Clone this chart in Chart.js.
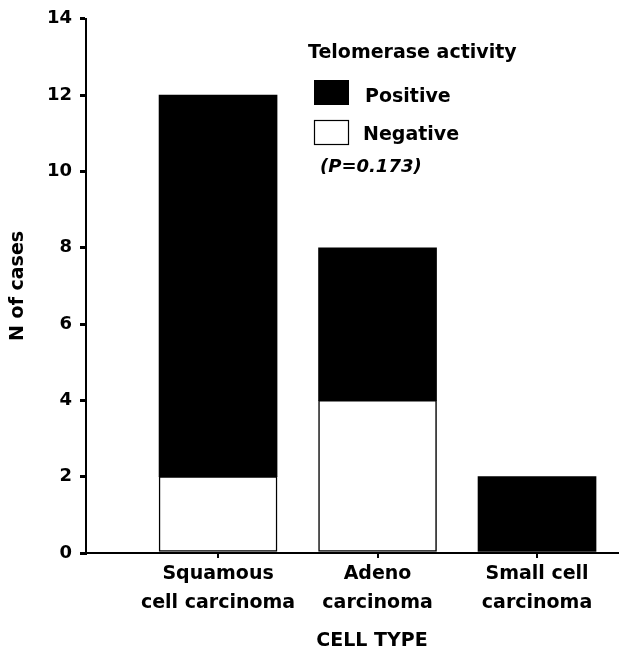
<!DOCTYPE html>
<html>
<head>
<meta charset="utf-8">
<script src="https://cdn.jsdelivr.net/npm/chart.js@4/dist/chart.umd.min.js"></script>
<style>
html,body{margin:0;padding:0;background:#fff;}
#wrap{width:619px;height:653px;position:relative;}
</style>
</head>
<body>
<div id="wrap"><canvas id="c" width="619" height="653"></canvas></div>
<script>
const categories = [["Squamous","cell carcinoma"],["Adeno","carcinoma"],["Small cell","carcinoma"]];
const categoryPositions = [1, 2, 3];
const negativeValues = [2, 4, 0];
const positiveValues = [10, 4, 2];
const yTicks = [0, 2, 4, 6, 8, 10, 12, 14];
const legendTitle = "Telomerase activity";
const legendLabels = ["Positive", "Negative"];
const pValueText = "(P=0.173)";
const xTitle = "CELL TYPE";
const yTitle = "N of cases";

const FONT = "'DejaVu Sans', sans-serif";

const legendPlugin = {
  id: 'customLegend',
  afterDraw(chart) {
    const ctx = chart.ctx;
    ctx.save();
    ctx.fillStyle = '#000';
    ctx.textBaseline = 'middle';
    ctx.textAlign = 'left';
    ctx.font = "bold 19px " + FONT;
    ctx.fillText(legendTitle, 308, 53);
    ctx.fillRect(314, 80, 35, 25);
    ctx.fillText(legendLabels[0], 365, 97);
    ctx.lineWidth = 1.2;
    ctx.strokeStyle = '#000';
    ctx.strokeRect(314.5, 120.5, 34, 24);
    ctx.fillText(legendLabels[1], 363, 135);
    ctx.font = "italic bold 18px " + FONT;
    ctx.fillText(pValueText, 320, 167);
    // x axis title
    ctx.textAlign = 'center';
    ctx.font = "bold 19px " + FONT;
    ctx.fillText(xTitle, 372, 641);
    ctx.restore();
  }
};

const ctx = document.getElementById('c').getContext('2d');
new Chart(ctx, {
  type: 'bar',
  data: {
    datasets: [
      {
        label: legendLabels[1],
        data: categoryPositions.map((x, i) => ({x: x, y: negativeValues[i]})),
        backgroundColor: '#ffffff',
        borderColor: '#000000',
        borderWidth: 1.5,
        borderSkipped: false,
        barThickness: 118,
        stack: 's'
      },
      {
        label: legendLabels[0],
        data: categoryPositions.map((x, i) => ({x: x, y: positiveValues[i]})),
        backgroundColor: '#000000',
        borderColor: '#000000',
        borderWidth: 0,
        barThickness: 118,
        stack: 's'
      }
    ]
  },
  options: {
    responsive: false,
    animation: false,
    devicePixelRatio: 1,
    layout: { padding: { top: 13, right: 0, left: 0, bottom: 0 } },
    plugins: {
      legend: { display: false },
      tooltip: { enabled: false }
    },
    scales: {
      x: {
        type: 'linear',
        stacked: true,
        offset: false,
        min: 0.172,
        max: 3.514,
        afterBuildTicks(axis) {
          axis.ticks = categoryPositions.map(v => ({value: v}));
        },
        afterFit(axis) { axis.height = 100; },
        grid: { display: true, offset: false, drawOnChartArea: false, drawTicks: true, tickLength: 5, color: '#000', lineWidth: 2 },
        border: { display: true, color: '#000', width: 2 },
        ticks: {
          color: '#000',
          padding: 2,
          maxRotation: 0,
          autoSkip: false,
          font: { family: FONT, size: 19, weight: 'bold', lineHeight: 1.5 },
          callback(value) {
            const i = categoryPositions.indexOf(value);
            return i >= 0 ? categories[i] : '';
          }
        },
        title: { display: false }
      },
      y: {
        stacked: true,
        min: 0,
        max: 14,
        afterBuildTicks(axis) {
          axis.ticks = yTicks.map(v => ({value: v}));
        },
        afterFit(axis) { axis.width = 86; },
        grid: { display: true, drawOnChartArea: false, drawTicks: true, tickLength: 6, color: '#000', lineWidth: 3 },
        border: { display: true, color: '#000', width: 2 },
        ticks: {
          color: '#000',
          padding: 8,
          font: { family: FONT, size: 18, weight: 'bold' }
        },
        title: {
          display: true,
          text: yTitle,
          color: '#000',
          font: { family: FONT, size: 19, weight: 'bold', lineHeight: 1.2 },
          padding: { top: 7, bottom: 0 }
        }
      }
    }
  },
  plugins: [legendPlugin]
});
</script>
</body>
</html>
